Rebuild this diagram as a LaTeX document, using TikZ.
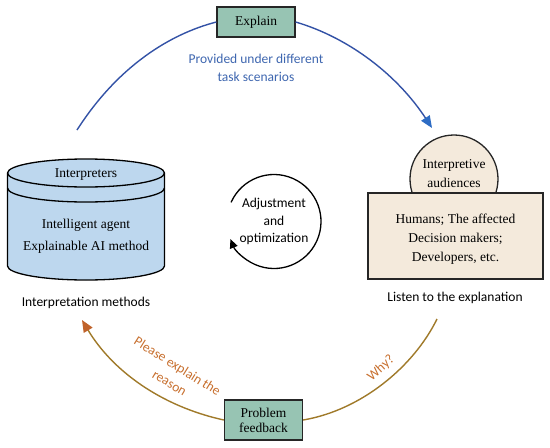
\documentclass[tikz,border=0pt]{standalone}
\usepackage{fontspec}
\setmainfont{Liberation Serif}
\newfontfamily\calfont{Carlito}
\usetikzlibrary{arrows.meta}
\definecolor{boxgreen}{HTML}{97C4B3}
\definecolor{cylblue}{HTML}{BDD7EE}
\definecolor{beige}{HTML}{F4EADC}
\definecolor{lineblue}{HTML}{3352A6}
\definecolor{tipblue}{HTML}{2E6CC4}
\definecolor{textblue}{HTML}{3F67B0}
\definecolor{linebrown}{HTML}{A07A2A}
\definecolor{tipbrown}{HTML}{C0622A}
\definecolor{textorange}{HTML}{C8702F}
\tikzset{
  greenbox/.style={draw=black!85,line width=1.3pt,fill=boxgreen,minimum width=78pt,inner sep=2pt,align=center,font=\fontsize{13.5}{17}\selectfont},
  sanslabel/.style={font=\calfont\fontsize{13.5}{17.5}\selectfont,align=center},
  seriflabel/.style={font=\fontsize{13.5}{19}\selectfont,align=center},
  bluearc/.style={draw=lineblue,line width=1.4pt},
  brownarc/.style={draw=linebrown,line width=1.4pt},
}
\begin{document}
\begin{tikzpicture}[x=1pt,y=-1pt]
\useasboundingbox (0,0) rectangle (550,448);
\fill[white] (0,0) rectangle (550,448);

% Explain box
\node[greenbox,minimum height=30pt] (explain) at (256,22) {Explain};
% Problem feedback box
\node[greenbox,minimum height=40pt] (problem) at (263.5,420) {Problem\\[-2pt]feedback};

% cylinder
\draw[line width=1.3pt,fill=cylblue] (7.5,173) -- (7.5,266) arc[start angle=180,end angle=360,x radius=78.5pt,y radius=14pt] -- (164.5,173) arc[start angle=0,end angle=180,x radius=78.5pt,y radius=14pt] -- cycle;
\draw[line width=1.3pt] (7.5,173) arc[start angle=180,end angle=360,x radius=78.5pt,y radius=14pt];
\draw[line width=1.3pt] (7.5,188) arc[start angle=180,end angle=360,x radius=78.5pt,y radius=14pt];
\node[seriflabel] (interp) at (86,175) {Interpreters};
\node[seriflabel,font=\fontsize{13.5}{22}\selectfont] (agent) at (86,236) {Intelligent agent\\Explainable AI method};
\node[sanslabel] (methods) at (86,303) {Interpretation methods};

% audiences
\node[draw=black!85,line width=1.3pt,fill=beige,circle,minimum size=88pt,inner sep=0pt] (aud) at (454,179) {};
\node[draw=black!85,line width=1.3pt,fill=beige,minimum width=175pt,minimum height=86pt,inner sep=0pt] (humans) at (455.5,236) {};
\node[seriflabel] (audtext) at (454,174) {Interpretive\\audiences};
\node[seriflabel] (humtext) at (455.5,239) {Humans; The affected\\Decision makers;\\Developers, etc.};
\node[sanslabel] (listen) at (455,298) {Listen to the explanation};

% adjustment cycle
\node[sanslabel] (adjust) at (274,221.5) {Adjustment\\and\\optimization};
\draw[line width=1.3pt,-{Triangle[length=9pt,width=8pt]}] (adjust.center) ++(156:47pt) arc[start angle=156,end angle=-158,radius=47pt];

% blue explain arcs
\coordinate (bstart) at (77,130);
\coordinate (bend) at (432,128);
\draw[bluearc] (bstart) .. controls (118,66) and (170,34) .. (explain.west);
\draw[bluearc,-{Triangle[length=12pt,width=10pt,color=tipblue]}] (explain.east) .. controls (350,38) and (398,76) .. (bend);
\node[sanslabel,text=textblue] (provided) at (256,68) {Provided under different\\task scenarios};

% brown feedback arcs
\coordinate (rstart) at (437,319);
\coordinate (rend) at (82,320);
\draw[brownarc] (rstart) .. controls (414,366) and (362,410) .. (problem.east);
\draw[brownarc,-{Triangle[length=12pt,width=10pt,color=tipbrown]}] (problem.west) .. controls (160,406) and (112,370) .. (rend);
\node[sanslabel,text=textorange,rotate=-32,inner sep=0pt] (please) at (177,367) {Please explain the};
\node[sanslabel,text=textorange,rotate=-31,inner sep=0pt] (reason) at (169,384) {reason};
\node[sanslabel,text=textorange,rotate=42,inner sep=0pt] (why) at (381,368) {Why?};
\end{tikzpicture}
\end{document}
